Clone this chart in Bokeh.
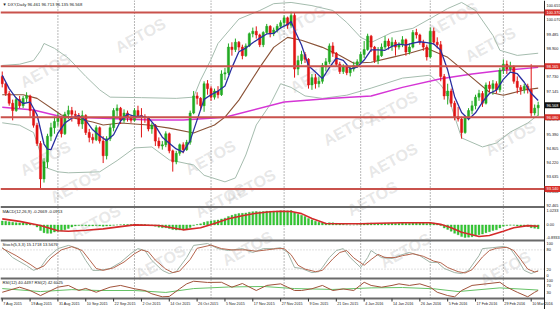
from bokeh.plotting import figure
from bokeh.models import Range1d, ColumnDataSource
from bokeh.core.properties import value
from bokeh.embed import file_html
from bokeh.resources import INLINE

# ---------------- data ----------------
opens = [97.75, 97.45, 97.05, 96.65, 96.35, 96.80, 96.55, 96.85, 96.95, 96.35, 95.75, 95.00, 93.55, 94.25, 95.30, 95.65, 95.90,
         96.05, 95.40, 96.20, 96.35, 96.20, 96.15, 95.80, 96.15, 95.45, 95.25, 95.15, 95.65, 95.10, 94.50, 95.20, 95.65, 96.35, 96.45, 95.95, 96.25, 96.05, 95.95,
         96.35, 96.15, 96.10, 96.05, 95.60, 95.75, 95.10, 94.90, 94.95, 95.40, 94.70, 94.25, 94.60, 94.95, 94.75, 95.05, 96.25, 96.95, 96.85, 96.55, 97.45, 97.25,
         96.90, 97.15, 97.00, 97.85, 97.90, 98.95, 98.85, 99.15, 98.95, 98.60, 99.00, 99.50, 99.60, 99.45, 99.05, 99.55, 99.80, 99.50, 99.65, 99.80, 99.95,
         100.15, 99.85, 100.25, 98.05, 98.40, 98.65, 98.45, 97.40, 97.70, 97.45, 97.55, 98.20, 98.35, 99.00, 98.70, 98.25, 97.95, 98.15, 97.90, 98.05, 98.20, 98.35,
         98.65, 98.85, 99.40, 98.95, 98.40, 98.60, 98.95, 99.20, 99.00, 99.15, 98.95, 99.05, 99.25, 98.75, 98.95, 99.55, 99.45, 99.15, 98.95, 98.55,
         99.60, 99.15, 99.05, 97.75, 96.95, 97.15, 96.65, 96.10, 96.00, 95.45, 96.05, 96.35, 96.55, 96.90, 97.05, 96.65, 97.40, 97.25, 97.45, 97.20, 98.00,
         98.25, 98.05, 98.15, 97.55, 97.30, 97.20, 97.35, 97.20, 96.25, 96.461]
highs = [97.95, 97.50, 97.15, 96.80, 96.90, 96.95, 96.95, 97.10, 97.00, 96.40, 95.85, 95.10, 94.40, 95.40, 95.85, 96.10, 96.25,
         96.10, 96.30, 96.55, 96.50, 96.35, 96.25, 96.35, 96.20, 95.60, 95.40, 95.75, 95.70, 95.30, 95.30, 95.80, 96.45, 96.60, 96.50, 96.40, 96.35, 96.15, 96.45,
         96.55, 96.45, 96.20, 96.10, 95.85, 95.80, 95.25, 95.10, 95.50, 95.45, 94.75, 94.70, 95.00, 95.05, 95.15, 96.35, 97.15, 97.10, 96.90, 97.55, 97.60, 97.35,
         97.25, 97.35, 98.00, 98.10, 99.10, 99.15, 99.30, 99.20, 99.05, 99.10, 99.55, 99.75, 99.80, 99.50, 99.60, 99.90, 99.85, 99.75, 99.90, 100.05, 100.25,
         100.20, 100.40, 100.35, 98.60, 98.80, 98.75, 98.50, 97.85, 97.85, 97.75, 98.30, 98.50, 99.10, 99.15, 98.75, 98.35, 98.25, 98.20, 98.15, 98.35, 98.45, 98.75,
         99.20, 99.50, 99.45, 99.00, 98.95, 99.10, 99.40, 99.30, 99.35, 99.25, 99.15, 99.40, 99.30, 99.10, 99.65, 99.70, 99.50, 99.25, 99.05, 99.75,
         99.75, 99.35, 99.20, 97.85, 97.45, 97.25, 96.75, 96.50, 96.10, 96.15, 96.45, 96.75, 97.00, 97.20, 97.15, 97.50, 97.55, 97.60, 97.55, 98.10, 98.45,
         98.40, 98.35, 98.20, 97.75, 97.40, 97.45, 97.45, 98.25, 96.60, 96.713]
lows = [97.30, 96.95, 96.55, 95.95, 96.30, 96.45, 96.45, 96.70, 96.10, 95.65, 94.90, 93.15, 93.40, 94.00, 95.10, 95.40, 95.70,
        95.25, 95.35, 96.00, 95.90, 96.00, 95.70, 95.60, 95.35, 95.05, 95.00, 95.10, 95.00, 94.20, 94.35, 95.10, 95.50, 96.10, 95.80, 95.85, 95.90, 95.85, 95.90,
        96.05, 95.25, 95.85, 95.50, 95.40, 94.90, 94.80, 94.75, 94.85, 94.60, 93.85, 94.15, 94.50, 94.60, 94.70, 94.95, 96.20, 96.60, 96.35, 96.30, 97.00, 96.75,
        96.80, 96.85, 96.95, 97.60, 97.80, 98.60, 98.75, 98.80, 98.45, 98.55, 98.95, 99.35, 99.30, 98.95, 98.95, 99.50, 99.35, 99.40, 99.55, 99.70, 99.80,
        99.70, 99.75, 97.70, 97.80, 98.25, 98.30, 97.25, 97.20, 97.25, 97.30, 97.45, 97.95, 98.25, 98.55, 98.15, 97.85, 97.85, 97.80, 97.75, 97.95, 98.10, 98.30,
        98.50, 98.80, 98.75, 98.30, 98.25, 98.55, 98.85, 98.85, 98.80, 98.60, 98.85, 98.95, 98.60, 98.65, 98.90, 99.30, 99.05, 98.80, 98.40, 98.50,
        99.05, 98.90, 97.55, 96.80, 96.60, 96.50, 95.95, 95.90, 95.20, 95.40, 95.95, 96.20, 96.40, 96.75, 96.50, 96.60, 97.10, 97.00, 97.05, 97.10, 97.85,
        97.85, 97.95, 97.45, 97.05, 97.00, 97.05, 97.05, 96.10, 96.15, 96.135]
closes = [97.45, 97.05, 96.65, 96.35, 96.80, 96.55, 96.85, 96.95, 96.35, 95.75, 95.00, 93.55, 94.25, 95.30, 95.65, 95.90, 96.05,
          95.40, 96.20, 96.35, 96.20, 96.15, 95.80, 96.15, 95.45, 95.25, 95.15, 95.65, 95.10, 94.50, 95.20, 95.65, 96.35, 96.45, 95.95, 96.25, 96.05, 95.95, 96.35,
          96.15, 96.10, 96.05, 95.60, 95.75, 95.10, 94.90, 94.95, 95.40, 94.70, 94.25, 94.60, 94.95, 94.75, 95.05, 96.25, 96.95, 96.85, 96.55, 97.45, 97.25, 96.90,
          97.15, 97.00, 97.85, 97.90, 98.95, 98.85, 99.15, 98.95, 98.60, 99.00, 99.50, 99.60, 99.45, 99.05, 99.55, 99.80, 99.50, 99.65, 99.80, 99.95, 100.15,
          99.85, 100.25, 98.05, 98.40, 98.65, 98.45, 97.40, 97.70, 97.45, 97.55, 98.20, 98.35, 99.00, 98.70, 98.25, 97.95, 98.15, 97.90, 98.05, 98.20, 98.35, 98.65,
          98.85, 99.40, 98.95, 98.40, 98.60, 98.95, 99.20, 99.00, 99.15, 98.95, 99.05, 99.25, 98.75, 98.95, 99.55, 99.45, 99.15, 98.95, 98.55, 99.60,
          99.15, 99.05, 97.75, 96.95, 97.15, 96.65, 96.10, 96.00, 95.45, 96.05, 96.35, 96.55, 96.90, 97.05, 96.65, 97.40, 97.25, 97.45, 97.20, 98.00, 98.25,
          98.05, 98.15, 97.55, 97.30, 97.20, 97.35, 97.20, 96.25, 96.45, 96.568]

blue_x = [0, 2, 4, 6, 8, 10, 12, 13, 14, 16, 18, 20, 22, 24, 26, 28, 30, 32, 34, 36, 38, 40, 42, 44, 46, 48, 50, 52, 54, 56,
          58, 60, 62, 64, 66, 68, 70, 72, 74, 76, 78, 80, 82, 83, 84, 86, 88, 90, 92, 94, 96, 98, 100, 102, 104, 106, 108, 110,
          112, 114, 116, 118, 120, 122, 124, 126, 128, 130, 132, 134, 136, 138, 140, 142, 144, 146, 148, 150, 152, 154]
blue_v = [97.80, 97.25, 96.86, 96.64, 96.70, 96.18, 94.98, 94.77, 94.75, 95.43, 95.84, 96.04, 96.14, 95.95, 95.56, 95.32, 95.12,
          95.36, 95.92, 96.21, 96.11, 96.12, 96.05, 95.72, 95.26, 95.01, 94.78, 94.65, 95.12, 95.97, 96.81, 97.00, 97.15, 97.36,
          98.11, 98.76, 98.91, 99.13, 99.32, 99.49, 99.51, 99.74, 99.88, 100.00, 99.65, 99.04, 98.19, 97.93, 97.66, 98.11, 98.50,
          98.41, 98.06, 98.13, 98.42, 98.84, 98.84, 98.82, 98.98, 99.07, 99.03, 99.11, 99.17, 99.13, 99.08, 98.82, 98.01, 96.92,
          96.27, 95.99, 96.26, 96.70, 97.05, 97.19, 97.63, 97.93, 97.86, 97.51, 97.06, 96.76]

brown_x = [0, 6, 10, 17, 22, 26, 29, 34, 42, 48, 55, 61, 64, 68, 74, 78, 82, 86, 92, 97, 101, 106, 112, 117, 122, 128, 135, 140, 144, 150, 154]
brown_v = [97.00, 97.00, 96.85, 96.17, 96.00, 95.88, 95.76, 95.84, 95.76, 95.63, 95.43, 95.76, 96.08, 96.78, 98.12, 98.94, 99.35,
           99.23, 98.94, 98.61, 98.29, 98.33, 98.53, 98.70, 98.90, 98.53, 97.70, 97.10, 96.98, 97.19, 97.27]

upper_x = [0, 5, 9, 11, 12, 15, 19, 24, 28, 31, 40, 50, 55, 57, 60, 62, 68, 74, 78, 83, 89, 95, 99, 103, 106, 112, 118, 123, 128, 132, 136, 141, 143, 148, 154]
upper_v = [98.20, 98.25, 98.40, 98.80, 99.10, 98.90, 98.50, 97.75, 97.20, 96.90, 96.88, 96.85, 96.90, 97.60, 98.45, 99.10, 100.10,
           100.45, 100.73, 100.78, 100.65, 100.45, 99.96, 99.35, 99.14, 99.55, 99.72, 100.12, 100.53, 100.78, 100.45, 99.43, 98.82, 98.61, 98.70]

lower_x = [0, 5, 9, 11, 12, 16, 19, 28, 33, 38, 43, 48, 55, 58, 64, 67, 70, 73, 77, 80, 83, 87, 92, 99, 106, 115, 123, 126, 128, 132, 138, 142, 146, 151, 154]
lower_v = [95.85, 95.75, 95.45, 94.60, 94.04, 93.84, 93.80, 93.84, 94.30, 94.82, 94.86, 94.33, 94.12, 93.70, 93.43, 93.59, 94.53,
           95.76, 96.60, 97.45, 97.30, 96.95, 96.85, 96.98, 97.27, 97.68, 97.80, 97.40, 96.98, 95.23, 94.86, 95.02, 95.47, 95.84, 96.17]

magenta_x = [0, 9, 17, 29, 43, 52, 64, 81, 95, 106, 115, 126, 135, 144, 154]
magenta_v = [96.49, 96.37, 96.10, 96.04, 95.96, 95.96, 96.08, 96.70, 96.86, 96.95, 97.30, 97.65, 97.85, 98.00, 98.12]

level_v = [100.370, 98.165, 96.080, 93.140]
price_ticks = [92.465, 93.050, 93.635, 94.220, 94.805, 95.390, 95.975, 97.145, 97.730, 98.900, 99.485, 100.070, 100.655]

macd_hist = [0.28, 0.26, 0.22, 0.18, 0.16, 0.14, 0.13, 0.12, 0.08,
             0.0, -0.15, -0.4, -0.55, -0.6, -0.6, -0.5, -0.45,
             -0.42, -0.35, -0.25, -0.15, -0.08, -0.05, -0.04, -0.06,
             -0.06, -0.07, -0.05, -0.07, -0.1, -0.08, -0.06, -0.03,
             0.0, 0.01, 0.02, 0.02, 0.02, 0.03, 0.03, 0.03,
             0.02, 0.0, -0.04, -0.1, -0.16, -0.2, -0.2, -0.26,
             -0.33, -0.36, -0.36, -0.36, -0.32, -0.18, -0.05, 0.03,
             0.08, 0.18, 0.25, 0.28, 0.32, 0.35, 0.42, 0.48,
             0.6, 0.68, 0.76, 0.8, 0.82, 0.85, 0.9, 0.94,
             0.95, 0.93, 0.95, 0.97, 0.97, 0.98, 0.99, 1.0,
             1.01, 1.0, 1.0233, 0.85, 0.75, 0.68, 0.6, 0.45,
             0.36, 0.26, 0.18, 0.15, 0.13, 0.16, 0.15, 0.11,
             0.06, 0.04, 0.01, 0.0, 0.0, 0.01, 0.04, 0.07,
             0.12, 0.13, 0.1, 0.09, 0.1, 0.12, 0.12, 0.13,
             0.12, 0.12, 0.13, 0.11, 0.11, 0.15, 0.17, 0.17,
             0.14, 0.1, 0.14, 0.13, 0.1, -0.05, -0.22, -0.32,
             -0.45, -0.6, -0.7, -0.83, -0.8933, -0.87, -0.84, -0.78,
             -0.7, -0.65, -0.55, -0.48, -0.4, -0.35, -0.22, -0.1,
             -0.05, -0.02, -0.03, -0.07, -0.09, -0.09, -0.11, -0.2,
             -0.24, -0.2669]
macd_sig_x = [0, 5, 11, 16, 19, 24, 29, 34, 38, 45, 52, 57, 61, 65, 69, 73, 77, 80, 83, 86, 89, 93, 98, 103, 108, 115, 123, 126,
              129, 132, 135, 137, 140, 144, 147, 151, 154]
macd_sig_v = [0.43, 0.25, -0.04, -0.42, -0.45, -0.38, -0.28, -0.12, 0.0, -0.04, -0.35, -0.2, 0.1, 0.43, 0.65, 0.83, 0.93, 0.97,
              0.95, 0.8, 0.45, 0.1, 0.08, 0.08, 0.12, 0.15, 0.15, 0.04, -0.2, -0.52, -0.7, -0.82, -0.75, -0.45, -0.2, -0.05, -0.0913]
macd_ticks = [1.0233, 0.0, -0.8933]
macd_tick_labels = ["1.0233", "0.00", "-0.8933"]

stoch_main_x = [0, 3, 7, 9, 11, 13, 16, 19, 22, 24, 26, 28, 31, 34, 37, 39, 41, 43, 46, 48, 50, 53, 55, 59, 62, 65, 69, 72, 75, 78,
                80, 82, 84, 86, 89, 91, 92, 94, 96, 98, 100, 103, 105, 106, 109, 112, 114, 117, 120, 123, 125, 127, 130, 132, 134,
                137, 138, 141, 144, 146, 148, 150, 152, 154]
stoch_main_v = [88, 56, 31, 16, 25, 56, 84, 94, 84, 47, 16, 16, 22, 41, 69, 84, 78, 47, 16, 6, 12, 56, 94, 100, 84, 78, 84, 72, 84, 84,
                87, 72, 25, 22, 9, 12, 25, 56, 78, 84, 56, 25, 56, 78, 56, 53, 62, 72, 62, 41, 41, 22, 9, 6, 16, 62, 84, 87, 91, 84,
                53, 16, 6, 15.1718]
stoch_sig_x = [0, 4, 8, 10, 12, 14, 17, 20, 23, 25, 27, 29, 32, 35, 38, 40, 42, 44, 47, 49, 51, 54, 56, 60, 63, 66, 70, 73, 76, 79,
               81, 83, 85, 87, 90, 92, 93, 95, 97, 99, 101, 104, 106, 108, 110, 113, 115, 118, 121, 124, 126, 128, 131, 133, 135,
               138, 140, 142, 145, 147, 149, 151, 153, 154]
stoch_sig_v = [85, 62, 35, 20, 30, 55, 80, 90, 78, 50, 22, 16, 24, 42, 68, 80, 74, 48, 20, 9, 14, 50, 85, 95, 84, 80, 80, 76, 80, 84,
               84, 65, 32, 20, 12, 16, 28, 52, 72, 78, 55, 32, 50, 66, 56, 56, 62, 68, 60, 45, 40, 25, 12, 8, 18, 58, 78, 85, 88, 78,
               50, 20, 11, 13.5676]
stoch_ticks = [100, 80, 20, 0]

rsi_a_x = [0, 5, 8, 11, 14, 16, 19, 22, 24, 27, 31, 34, 38, 41, 43, 46, 48, 51, 53, 55, 59, 63, 66, 69, 73, 76, 80, 82, 84, 86,
           89, 92, 95, 98, 101, 104, 106, 109, 112, 114, 117, 120, 123, 125, 128, 130, 132, 135, 139, 143, 145, 148, 151, 153, 154]
rsi_a_v = [30, 59, 40, 11, 40, 59, 69, 40, 52, 30, 59, 69, 50, 40, 21, 4, 6, 50, 78, 93, 86, 87, 59, 80, 40, 69, 78, 59, 40, 40,
           50, 69, 40, 49, 40, 87, 69, 59, 69, 78, 69, 78, 59, 30, 11, 4, 40, 69, 78, 87, 59, 30, 4, 30, 40.4497]
rsi_b_x = [0, 11, 20, 28, 38, 47, 55, 65, 75, 84, 95, 106, 115, 124, 131, 143, 154]
rsi_b_v = [51, 34, 45, 40, 40, 29, 51, 60, 63, 51, 46, 55, 57, 50, 34, 55, 42.6025]
rsi_ticks = [100, 70, 30]

month_start = [16, 38, 60, 81, 103, 123, 144]
date_idx = [0, 8, 16, 24, 32, 40, 48, 56, 64, 72, 80, 88, 96, 104, 112, 120, 128, 136, 144, 152]
date_lbl = ["7 Aug 2015", "19 Aug 2015", "31 Aug 2015", "10 Sep 2015", "22 Sep 2015", "2 Oct 2015", "14 Oct 2015",
            "26 Oct 2015", "5 Nov 2015", "17 Nov 2015", "27 Nov 2015", "9 Dec 2015", "21 Dec 2015", "4 Jan 2016",
            "14 Jan 2016", "26 Jan 2016", "5 Feb 2016", "17 Feb 2016", "29 Feb 2016", "10 Mar 2016"]

assert len(opens) == len(highs) == len(lows) == len(closes) == len(macd_hist) == 155

# ---------------- figure ----------------
W, H = 560, 309
BAR_PX = 3.48
AX = 544  # x pixel of the price scale
F = value("Liberation Sans")
FS = "3.9px"

p = figure(width=W, height=H, output_backend="svg", toolbar_location=None, title=None,
           x_range=Range1d(-0.5, W / BAR_PX - 0.5), y_range=Range1d(88.20, 100.86),
           x_axis_location=None, y_axis_location=None, min_border=0)
p.min_border_left = p.min_border_right = p.min_border_top = p.min_border_bottom = 0
p.grid.visible = False
p.outline_line_color = None
p.background_fill_color = "white"
p.border_fill_color = "white"
p.extra_x_ranges = {"px": Range1d(0, W)}
p.extra_y_ranges = {"px": Range1d(H, 0),
                    "up": Range1d(0, H),
                    "macd": Range1d(-6.0, 15.915),
                    "stoch": Range1d(-106.25, 859.375),
                    "rsi": Range1d(-68.57, 1697.14)}

# watermarks (pixel positions measured from the bottom edge)
wm = [(140, 274), (300, 287), (452, 290), (315, 234), (490, 265), (45, 151), (75, 124), (210, 152), (250, 123),
      (348, 181), (392, 201), (392, 149), (510, 171), (95, 87), (220, 109), (247, 61), (405, 59), (372, 111),
      (505, 41), (160, 47), (45, 239)]
p.text(x=[a for a, b in wm], y=[b for a, b in wm], text=["AETOS"] * len(wm), angle=0.5,
       x_range_name="px", y_range_name="up", text_font=F, text_font_style="bold", text_font_size="16px",
       text_color="#b0b0b0", text_alpha=0.3, text_align="center", text_baseline="middle")

# month grid (dotted)
p.segment(x0=month_start, y0=[0] * len(month_start), x1=month_start, y1=[298] * len(month_start),
          y_range_name="px", line_color="#707070", line_dash="1 2", line_width=1)

# bollinger bands, long MA, 20 MA
p.line(upper_x, upper_v, line_color="#a5bcae", line_width=1)
p.line(lower_x, lower_v, line_color="#a5bcae", line_width=1)
p.line(magenta_x, magenta_v, line_color="#d535d5", line_width=1.5)
p.line(brown_x, brown_v, line_color="#8a5236", line_width=1.1)

# candles
idx = list(range(len(closes)))
up = [i for i in idx if closes[i] >= opens[i]]
dn = [i for i in idx if closes[i] < opens[i]]
for sel, col in ((up, "#22aa22"), (dn, "#e01414")):
    src = ColumnDataSource(dict(x=sel, o=[opens[i] for i in sel], c=[closes[i] for i in sel],
                                h=[highs[i] for i in sel], l=[lows[i] for i in sel]))
    p.segment(x0="x", y0="l", x1="x", y1="h", source=src, line_color=col, line_width=1)
    p.vbar(x="x", width=0.62, top="o", bottom="c", source=src, fill_color=col, line_color=col, line_width=0.5)

p.line(blue_x, blue_v, line_color="#2a2fa0", line_width=1.3)

# horizontal levels
p.segment(x0=[0] * len(level_v), y0=level_v, x1=[AX] * len(level_v), y1=level_v, x_range_name="px",
          line_color="#c9524c", line_width=2)

# MACD
p.vbar(x=idx, width=0.55, top=macd_hist, bottom=0, y_range_name="macd", fill_color="#33cc33",
       line_color="#229922", line_width=0.3)
p.line(macd_sig_x, macd_sig_v, y_range_name="macd", line_color="#d42a2a", line_width=1.6)

# Stochastic
p.segment(x0=[0, 0], y0=[20, 80], x1=[AX, AX], y1=[20, 80], x_range_name="px", y_range_name="stoch",
          line_color="#c0c0c0", line_dash="1 2", line_width=1)
p.line(stoch_main_x, stoch_main_v, y_range_name="stoch", line_color="#9fb3a6", line_width=1)
p.line(stoch_sig_x, stoch_sig_v, y_range_name="stoch", line_color="#b5654e", line_width=1)

# RSI
p.line(rsi_b_x, rsi_b_v, y_range_name="rsi", line_color="#66c266", line_width=1)
p.line(rsi_a_x, rsi_a_v, y_range_name="rsi", line_color="#a0523a", line_width=1)

# panel separators and price-scale line
p.segment(x0=[0, 0, 0, 0], y0=[206.5, 240, 278, 298], x1=[AX] * 4, y1=[206.5, 240, 278, 298],
          x_range_name="px", y_range_name="px", line_color="#6a6a6a", line_width=2)
p.segment(x0=[AX], y0=[0], x1=[AX], y1=[H], x_range_name="px", y_range_name="px",
          line_color="#202020", line_width=1)

# panel headers
hdr = dict(x_range_name="px", y_range_name="px", text_font=F, text_font_size="4.2px",
           text_color="#202020", text_baseline="middle")
p.text(x=[2], y=[3.5], text=["\u25bc DXY,Daily  96.461 96.713 96.135 96.568"], **hdr)
p.text(x=[2], y=[211], text=["MACD(12,26,9) -0.2669 -0.0913"], **hdr)
p.text(x=[2], y=[244], text=["Stoch(5,3,3) 15.1718 13.5676"], **hdr)
p.text(x=[2], y=[282], text=["RSI(12) 40.4497  RSI(2) 42.6025"], **hdr)

# right scale labels
lab = dict(text_font=F, text_font_size=FS, text_color="#202020", text_baseline="middle", x_range_name="px")
p.text(x=[AX + 2] * len(price_ticks), y=price_ticks, text=["%.3f" % v for v in price_ticks], **lab)
p.text(x=[AX + 2] * 3, y=macd_ticks, text=macd_tick_labels, y_range_name="macd", **lab)
p.text(x=[AX + 2] * 4, y=stoch_ticks, text=[str(v) for v in stoch_ticks], y_range_name="stoch", **lab)
p.text(x=[AX + 2] * 3, y=rsi_ticks, text=[str(v) for v in rsi_ticks], y_range_name="rsi", **lab)

# boxed level labels
p.rect(x=[AX + 8] * len(level_v), y=level_v, width=16, height=6, width_units="screen", height_units="screen",
       x_range_name="px", fill_color="#d8302a", line_color=None)
p.text(x=[AX + 2] * len(level_v), y=level_v, text=["%.3f" % v for v in level_v],
       x_range_name="px", text_font=F, text_font_size=FS, text_color="white", text_baseline="middle")
p.rect(x=[AX + 8], y=[closes[-1]], width=16, height=6, width_units="screen", height_units="screen",
       x_range_name="px", fill_color="#111111", line_color=None)
p.text(x=[AX + 2], y=[closes[-1]], text=["%.3f" % closes[-1]], x_range_name="px", text_font=F,
       text_font_size=FS, text_color="white", text_baseline="middle")

# date axis
p.segment(x0=date_idx, y0=[298] * len(date_idx), x1=date_idx, y1=[301] * len(date_idx),
          y_range_name="px", line_color="#303030", line_width=1)
p.text(x=date_idx, y=[303.5] * len(date_idx), text=date_lbl, x_offset=1, y_range_name="px",
       text_font=F, text_font_size="3.7px", text_color="#202020", text_baseline="middle")

open("out.html", "w").write(file_html(p, INLINE))
